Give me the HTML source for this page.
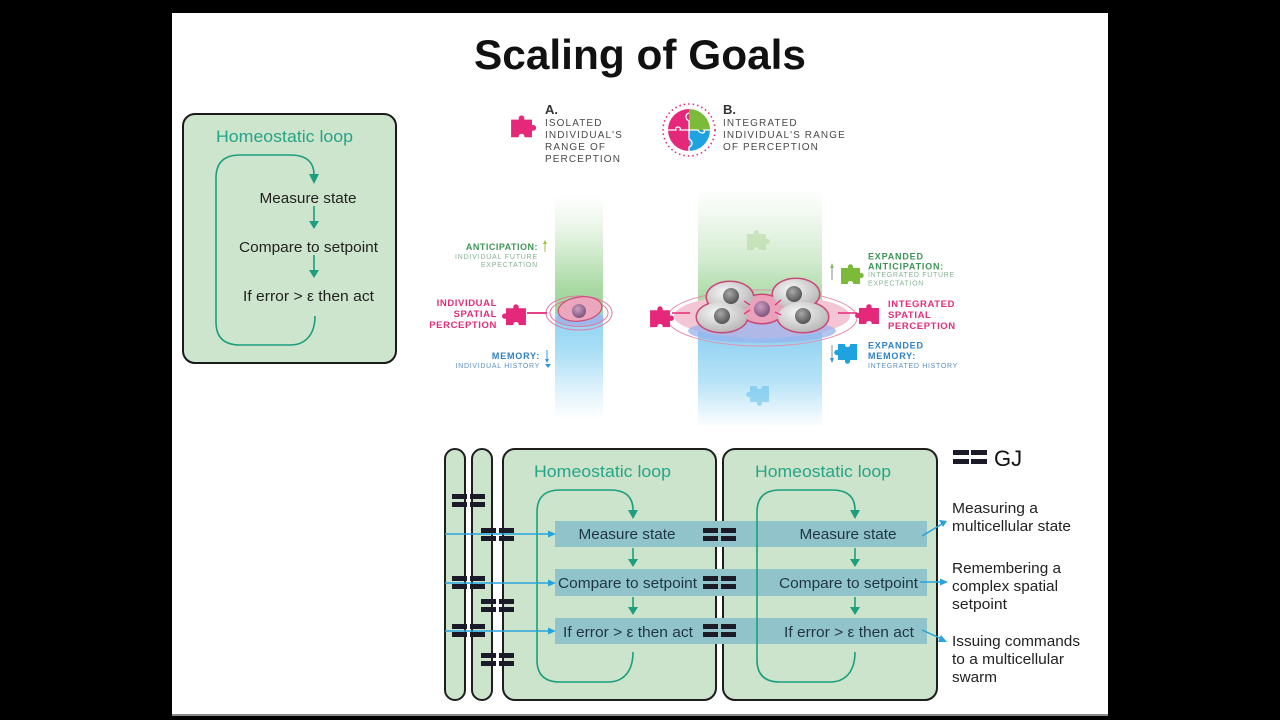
<!DOCTYPE html>
<html><head><meta charset="utf-8"><style>
html,body{margin:0;padding:0;background:#000;}
svg{display:block;}
text{font-family:"Liberation Sans",Arial,sans-serif;}
</style></head><body>
<svg width="1280" height="720" viewBox="0 0 1280 720" xmlns="http://www.w3.org/2000/svg">
<defs>
<path id="pz" d="M1,6 H8 C7,1 14,1 13,6 H20 V11 C25,10 25,17 20,16 V22 H13 C14,18 7,18 8,22 H1 Z"/>
<linearGradient id="gA" gradientUnits="userSpaceOnUse" x1="0" y1="195" x2="0" y2="420">
<stop offset="0" stop-color="#ffffff"/><stop offset="0.13" stop-color="#eef7ec"/><stop offset="0.42" stop-color="#a8d9a2"/><stop offset="0.52" stop-color="#9dd49a"/><stop offset="0.53" stop-color="#8ed2f2"/><stop offset="0.69" stop-color="#a9def6"/><stop offset="0.89" stop-color="#e6f5fc"/><stop offset="1" stop-color="#ffffff"/>
</linearGradient>
<linearGradient id="gB" gradientUnits="userSpaceOnUse" x1="0" y1="188" x2="0" y2="428">
<stop offset="0" stop-color="#ffffff"/><stop offset="0.11" stop-color="#f2f9f1"/><stop offset="0.3" stop-color="#d2ebcf"/><stop offset="0.47" stop-color="#a9d9a4"/><stop offset="0.58" stop-color="#a6d8a8"/><stop offset="0.6" stop-color="#8fd1f2"/><stop offset="0.8" stop-color="#b5e2f7"/><stop offset="0.94" stop-color="#e9f6fd"/><stop offset="1" stop-color="#ffffff"/>
</linearGradient>
<radialGradient id="gc" cx="0.4" cy="0.35" r="0.7"><stop offset="0" stop-color="#f7f7f7"/><stop offset="1" stop-color="#b5b5b5"/></radialGradient>
<radialGradient id="gn" cx="0.4" cy="0.35" r="0.7"><stop offset="0" stop-color="#a8a8a8"/><stop offset="1" stop-color="#4e4e4e"/></radialGradient>
<radialGradient id="gp" cx="0.4" cy="0.35" r="0.7"><stop offset="0" stop-color="#c9a0c0"/><stop offset="1" stop-color="#7c4f78"/></radialGradient>
</defs>

<!-- slide -->
<rect x="172" y="13" width="936" height="702" fill="#ffffff"/>
<rect x="172" y="714" width="936" height="2" fill="#8a8a8a"/>

<!-- title -->
<text x="640" y="69" text-anchor="middle" font-size="42" font-weight="bold" fill="#111" textLength="332" lengthAdjust="spacingAndGlyphs">Scaling of Goals</text>

<!-- top-left homeostatic box -->
<rect x="183" y="114" width="213" height="249" rx="12" fill="#cde4cd" stroke="#1a1a1a" stroke-width="2"/>
<text x="284.5" y="142" text-anchor="middle" font-size="17" fill="#27a488" textLength="137" lengthAdjust="spacingAndGlyphs">Homeostatic loop</text>
<path d="M315,316 C315,335 305,345 290,345 L240,345 Q216,345 216,322 L216,178 Q216,155 240,155 L290,155 Q314,155 314,175" fill="none" stroke="#1d9e7e" stroke-width="1.6"/>
<polygon points="309,174 319,174 314,184" fill="#1d9e7e"/>
<line x1="314" y1="206" x2="314" y2="222" stroke="#1d9e7e" stroke-width="1.6"/>
<polygon points="309,221 319,221 314,229" fill="#1d9e7e"/>
<line x1="314" y1="255" x2="314" y2="271" stroke="#1d9e7e" stroke-width="1.6"/>
<polygon points="309,270 319,270 314,278" fill="#1d9e7e"/>
<text x="308" y="203" text-anchor="middle" font-size="15" fill="#222" textLength="97" lengthAdjust="spacingAndGlyphs">Measure state</text>
<text x="308.5" y="252" text-anchor="middle" font-size="15" fill="#222" textLength="139" lengthAdjust="spacingAndGlyphs">Compare to setpoint</text>
<text x="308.5" y="301" text-anchor="middle" font-size="15" fill="#222" textLength="131" lengthAdjust="spacingAndGlyphs">If error &gt; ε then act</text>

<!-- legend A / B -->
<use href="#pz" transform="translate(510,113) scale(1.1)" fill="#e5287a"/>
<text x="545" y="114" font-size="13" font-weight="bold" fill="#333">A.</text>
<g font-size="10" fill="#4a4a4a" letter-spacing="1.1">
<text x="545" y="126">ISOLATED</text>
<text x="545" y="138">INDIVIDUAL'S</text>
<text x="545" y="150">RANGE OF</text>
<text x="545" y="162">PERCEPTION</text>
</g>
<circle cx="689" cy="130" r="26" fill="none" stroke="#e5287a" stroke-width="1.6" stroke-dasharray="1.5 3"/>
<path d="M689,130 L668,130 A21,21 0 0 1 689,109 Z" fill="#e5287a"/>
<path d="M689,130 L689,109 A21,21 0 0 1 710,130 Z" fill="#7cbb3a"/>
<path d="M689,130 L710,130 A21,21 0 0 1 689,151 Z" fill="#1fa3e0"/>
<path d="M689,130 L689,151 A21,21 0 0 1 668,130 Z" fill="#e5287a"/>
<path d="M668,130 H676 C674,126 682,126 680,130 H689 V121 C685,119 685,114 689,113 M689,130 H698 C700,134 706,134 704,130 H710 M689,130 V139 C693,141 693,146 689,147 V151" fill="none" stroke="#fff" stroke-width="1.3"/>
<text x="723" y="114" font-size="13" font-weight="bold" fill="#333">B.</text>
<g font-size="10" fill="#4a4a4a" letter-spacing="1.1">
<text x="723" y="126">INTEGRATED</text>
<text x="723" y="138">INDIVIDUAL'S RANGE</text>
<text x="723" y="150">OF PERCEPTION</text>
</g>

<!-- column A -->
<rect x="555" y="195" width="48" height="225" fill="url(#gA)"/>
<ellipse cx="580" cy="319" rx="24" ry="8" fill="#a9a3e3" opacity="0.6"/>
<ellipse cx="579" cy="313" rx="33" ry="17" fill="none" stroke="#e07aa0" stroke-width="1"/>
<ellipse cx="579" cy="313" rx="29" ry="13.5" fill="none" stroke="#e07aa0" stroke-width="1"/>
<ellipse cx="580" cy="309" rx="22" ry="12" fill="#eca6bd" stroke="#c9507a" stroke-width="1.2" transform="rotate(-8 580 309)"/>
<circle cx="579" cy="311" r="7" fill="url(#gp)"/>
<use href="#pz" transform="translate(527,302) scale(-1.05,1.05)" fill="#e5287a"/>
<line x1="527" y1="313" x2="547" y2="313" stroke="#e5287a" stroke-width="1.8"/>
<g font-size="9" font-weight="bold" fill="#3f9556" letter-spacing="0.5" text-anchor="end">
<text x="538" y="250">ANTICIPATION:</text>
</g>
<g font-size="7" fill="#86b292" letter-spacing="0.8" text-anchor="end">
<text x="538" y="259">INDIVIDUAL FUTURE</text>
<text x="538" y="267">EXPECTATION</text>
</g>
<line x1="545" y1="252" x2="545" y2="243" stroke="#9cc440" stroke-width="1"/>
<polygon points="543,244 547,244 545,240" fill="#9cc440"/>
<g font-size="9.5" font-weight="bold" fill="#e02e78" letter-spacing="0.6" text-anchor="end">
<text x="497" y="306">INDIVIDUAL</text>
<text x="497" y="317">SPATIAL</text>
<text x="497" y="328">PERCEPTION</text>
</g>
<text x="540" y="359" font-size="9" font-weight="bold" fill="#2f80c4" letter-spacing="0.8" text-anchor="end">MEMORY:</text>
<text x="540" y="368" font-size="7" fill="#5b8fc2" letter-spacing="0.7" text-anchor="end">INDIVIDUAL HISTORY</text>
<line x1="547" y1="350" x2="547" y2="360" stroke="#2f9ad8" stroke-width="1"/>
<polygon points="545,359 549,359 547,363" fill="#2f9ad8"/>
<polygon points="545,364 551,364 548,368" fill="#2f9ad8"/>

<!-- column B -->
<rect x="698" y="190" width="124" height="236" fill="url(#gB)"/>
<use href="#pz" transform="translate(746,228)" fill="#8fc46a" opacity="0.3"/>
<use href="#pz" transform="translate(770,408) rotate(180)" fill="#3aaee6" opacity="0.4"/>
<ellipse cx="762" cy="318" rx="95" ry="28" fill="none" stroke="#e590b0" stroke-width="1"/>
<ellipse cx="762" cy="316" rx="88" ry="22" fill="#f4c6d5"/>
<ellipse cx="762" cy="331" rx="74" ry="12" fill="#98b3ec" opacity="0.75"/>
<g stroke="#c84a78" stroke-width="3">
<ellipse cx="730" cy="297" rx="23" ry="15"/>
<ellipse cx="796" cy="294" rx="23" ry="15"/>
<ellipse cx="722" cy="317" rx="25" ry="15"/>
<ellipse cx="803" cy="317" rx="25" ry="15"/>
<ellipse cx="762" cy="309" rx="22" ry="14"/>
</g>
<ellipse cx="762" cy="309" rx="22" ry="14" fill="#eba1b9"/>
<ellipse cx="730" cy="297" rx="23" ry="15" fill="url(#gc)"/>
<ellipse cx="796" cy="294" rx="23" ry="15" fill="url(#gc)"/>
<ellipse cx="722" cy="317" rx="25" ry="15" fill="url(#gc)"/>
<ellipse cx="803" cy="317" rx="25" ry="15" fill="url(#gc)"/>
<circle cx="731" cy="296" r="8" fill="url(#gn)"/>
<circle cx="794" cy="294" r="8" fill="url(#gn)"/>
<circle cx="722" cy="316" r="8" fill="url(#gn)"/>
<circle cx="803" cy="316" r="8" fill="url(#gn)"/>
<circle cx="762" cy="309" r="8" fill="url(#gp)"/>
<g stroke="#e5287a" stroke-width="1.2">
<line x1="744" y1="301" x2="750" y2="305"/><line x1="744" y1="314" x2="750" y2="310"/>
<line x1="775" y1="305" x2="781" y2="300"/><line x1="775" y1="312" x2="781" y2="315"/>
</g>
<use href="#pz" transform="translate(649,304) scale(1.05)" fill="#e5287a"/>
<line x1="672" y1="313" x2="690" y2="313" stroke="#e5287a" stroke-width="1.5"/>
<use href="#pz" transform="translate(880,302) scale(-1.05,1)" fill="#e5287a"/>
<line x1="838" y1="313" x2="857" y2="313" stroke="#e5287a" stroke-width="1.5"/>
<use href="#pz" transform="translate(840,262) scale(1,1)" fill="#7cbb3a"/>
<use href="#pz" transform="translate(858,366) scale(-1,-1)" fill="#1fa3e0"/>
<line x1="832" y1="280" x2="832" y2="267" stroke="#8a8a8a" stroke-width="1"/>
<polygon points="830,268 834,268 832,263" fill="#8fb86a"/>
<line x1="832" y1="345" x2="832" y2="359" stroke="#8a8a8a" stroke-width="1"/>
<polygon points="830,358 834,358 832,363" fill="#2f9ad8"/>
<g font-size="9" font-weight="bold" fill="#3f9556" letter-spacing="0.8">
<text x="868" y="259.5">EXPANDED</text>
<text x="868" y="269.5">ANTICIPATION:</text>
</g>
<g font-size="7" fill="#86b292" letter-spacing="0.7">
<text x="868" y="277">INTEGRATED FUTURE</text>
<text x="868" y="285.5">EXPECTATION</text>
</g>
<g font-size="9.5" font-weight="bold" fill="#e02e78" letter-spacing="0.6">
<text x="888" y="307">INTEGRATED</text>
<text x="888" y="318">SPATIAL</text>
<text x="888" y="329">PERCEPTION</text>
</g>
<g font-size="9" font-weight="bold" fill="#2f80c4" letter-spacing="0.8">
<text x="868" y="348.5">EXPANDED</text>
<text x="868" y="359">MEMORY:</text>
</g>
<text x="868" y="368" font-size="7" fill="#5b8fc2" letter-spacing="0.7">INTEGRATED HISTORY</text>

<!-- bottom section -->
<g fill="#cbe4cb" stroke="#1e1e1e" stroke-width="2">
<rect x="445" y="449" width="20" height="251" rx="10"/>
<rect x="472" y="449" width="20" height="251" rx="10"/>
<rect x="503" y="449" width="213" height="251" rx="12"/>
<rect x="723" y="449" width="214" height="251" rx="12"/>
</g>
<text x="602.5" y="477" text-anchor="middle" font-size="17" fill="#27a488" textLength="137" lengthAdjust="spacingAndGlyphs">Homeostatic loop</text>
<text x="823" y="477" text-anchor="middle" font-size="17" fill="#27a488" textLength="136" lengthAdjust="spacingAndGlyphs">Homeostatic loop</text>

<g fill="#90c4ca">
<rect x="555" y="521" width="372" height="26"/>
<rect x="555" y="569" width="372" height="27"/>
<rect x="555" y="618" width="372" height="26"/>
</g>

<g fill="none" stroke="#1d9e7e" stroke-width="1.6">
<path d="M633,652 C633,672 623,682 608,682 L560,682 Q537,682 537,660 L537,512 Q537,490 560,490 L610,490 Q633,490 633,510"/>
<path d="M855,652 C855,672 845,682 830,682 L780,682 Q757,682 757,660 L757,512 Q757,490 780,490 L832,490 Q855,490 855,510"/>
<line x1="633" y1="548" x2="633" y2="561"/><line x1="633" y1="597" x2="633" y2="609"/>
<line x1="855" y1="548" x2="855" y2="561"/><line x1="855" y1="597" x2="855" y2="609"/>
</g>
<g fill="#1d9e7e">
<polygon points="628,510 638,510 633,519"/><polygon points="850,510 860,510 855,519"/>
<polygon points="628,559 638,559 633,567"/><polygon points="628,607 638,607 633,615"/>
<polygon points="850,559 860,559 855,567"/><polygon points="850,607 860,607 855,615"/>
</g>

<g font-size="15" fill="#1f3545" text-anchor="middle">
<text x="627" y="539" textLength="97" lengthAdjust="spacingAndGlyphs">Measure state</text>
<text x="848" y="539" textLength="97" lengthAdjust="spacingAndGlyphs">Measure state</text>
<text x="627.5" y="588" textLength="139" lengthAdjust="spacingAndGlyphs">Compare to setpoint</text>
<text x="848.5" y="588" textLength="139" lengthAdjust="spacingAndGlyphs">Compare to setpoint</text>
<text x="628" y="637" textLength="130" lengthAdjust="spacingAndGlyphs">If error &gt; ε then act</text>
<text x="849" y="637" textLength="130" lengthAdjust="spacingAndGlyphs">If error &gt; ε then act</text>
</g>

<!-- blue arrows -->
<g stroke="#27a3dd" stroke-width="1.5" fill="none">
<line x1="445" y1="534" x2="550" y2="534"/>
<line x1="445" y1="583" x2="550" y2="583"/>
<line x1="445" y1="631" x2="550" y2="631"/>
<line x1="922" y1="536" x2="942" y2="524"/>
<line x1="920" y1="582" x2="942" y2="582"/>
<line x1="922" y1="630" x2="942" y2="639"/>
</g>
<g fill="#27a3dd">
<polygon points="548,530.5 548,537.5 556,534"/>
<polygon points="548,579.5 548,586.5 556,583"/>
<polygon points="548,627.5 548,634.5 556,631"/>
<polygon points="939,520 943,527 947,521"/>
<polygon points="940,578.5 940,585.5 948,582"/>
<polygon points="941,635 938,642 947,642"/>
</g>

<!-- GJ symbols -->
<g fill="#1a1a28">
<g transform="translate(452,494)"><rect width="15" height="5"/><rect x="18" width="15" height="5"/><rect y="8" width="15" height="5"/><rect x="18" y="8" width="15" height="5"/></g>
<g transform="translate(481,528)"><rect width="15" height="5"/><rect x="18" width="15" height="5"/><rect y="8" width="15" height="5"/><rect x="18" y="8" width="15" height="5"/></g>
<g transform="translate(452,576)"><rect width="15" height="5"/><rect x="18" width="15" height="5"/><rect y="8" width="15" height="5"/><rect x="18" y="8" width="15" height="5"/></g>
<g transform="translate(481,599)"><rect width="15" height="5"/><rect x="18" width="15" height="5"/><rect y="8" width="15" height="5"/><rect x="18" y="8" width="15" height="5"/></g>
<g transform="translate(452,624)"><rect width="15" height="5"/><rect x="18" width="15" height="5"/><rect y="8" width="15" height="5"/><rect x="18" y="8" width="15" height="5"/></g>
<g transform="translate(481,653)"><rect width="15" height="5"/><rect x="18" width="15" height="5"/><rect y="8" width="15" height="5"/><rect x="18" y="8" width="15" height="5"/></g>
<g transform="translate(703,528)"><rect width="15" height="5"/><rect x="18" width="15" height="5"/><rect y="8" width="15" height="5"/><rect x="18" y="8" width="15" height="5"/></g>
<g transform="translate(703,576)"><rect width="15" height="5"/><rect x="18" width="15" height="5"/><rect y="8" width="15" height="5"/><rect x="18" y="8" width="15" height="5"/></g>
<g transform="translate(703,624)"><rect width="15" height="5"/><rect x="18" width="15" height="5"/><rect y="8" width="15" height="5"/><rect x="18" y="8" width="15" height="5"/></g>
<g transform="translate(953,450)"><rect width="16" height="5"/><rect x="18" width="16" height="5"/><rect y="9" width="16" height="5"/><rect x="18" y="9" width="16" height="5"/></g>
</g>
<text x="994" y="466" font-size="22" fill="#111">GJ</text>

<!-- right labels -->
<g font-size="15" fill="#222">
<text x="952" y="513" textLength="86" lengthAdjust="spacingAndGlyphs">Measuring a</text>
<text x="952" y="531" textLength="119" lengthAdjust="spacingAndGlyphs">multicellular state</text>
<text x="952" y="573" textLength="109" lengthAdjust="spacingAndGlyphs">Remembering a</text>
<text x="952" y="591" textLength="106" lengthAdjust="spacingAndGlyphs">complex spatial</text>
<text x="952" y="609" textLength="55" lengthAdjust="spacingAndGlyphs">setpoint</text>
<text x="952" y="646" textLength="128" lengthAdjust="spacingAndGlyphs">Issuing commands</text>
<text x="952" y="664" textLength="112" lengthAdjust="spacingAndGlyphs">to a multicellular</text>
<text x="952" y="682" textLength="45" lengthAdjust="spacingAndGlyphs">swarm</text>
</g>
</svg>
</body></html>
